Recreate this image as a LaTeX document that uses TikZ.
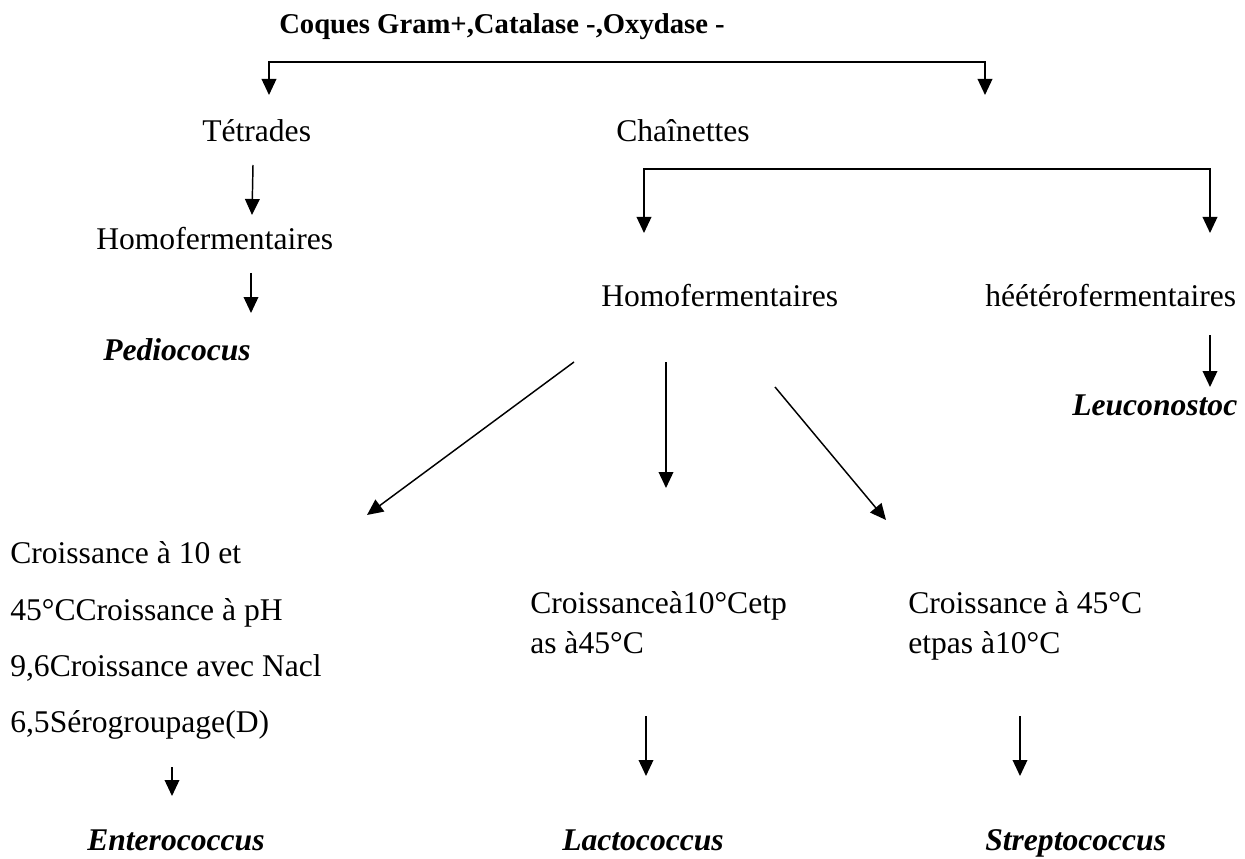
\documentclass[tikz,border=0pt]{standalone}
\usepackage{fontspec}
\setmainfont{Liberation Serif}
\usetikzlibrary{arrows.meta}

\begin{document}
\begin{tikzpicture}[x=0.75pt,y=-0.75pt,
  txt/.style={anchor=base west, inner sep=0pt, font=\fontsize{23.7}{28}\selectfont},
  genus/.style={txt, font=\fontsize{23.7}{28}\selectfont\bfseries\itshape},
  arr/.style={-{Triangle[length=12pt,width=11pt]}, line width=1.1pt},
  bracket/.style={{Triangle[length=12pt,width=11pt]}-{Triangle[length=12pt,width=11pt]}, line width=1.1pt}]
\useasboundingbox (0,0) rectangle (1245,859);

% titre et premier niveau
\node[txt, font=\fontsize{21.5}{26}\selectfont\bfseries] (title) at (279,34) {Coques Gram+,Catalase -,Oxydase -};
\node[txt] (tetr) at (202,142) {Tétrades};
\node[txt] (chain) at (616,142) {Chaînettes};
\node[txt] (homoA) at (96,250) {Homofermentaires};
\node[genus] (pedio) at (103,360) {Pediococus};
\node[txt] (homoB) at (601,306) {Homofermentaires};
\node[txt] (hetero) at (985,306) {héétérofermentaires};
\node[genus] (leuco) at (1072,415) {Leuconostoc};

% criteres
\foreach \line/\y [count=\i] in {
  {Croissance à 10 et}/563,
  {45°CCroissance à pH}/620,
  {9,6Croissance avec Nacl}/676,
  {6,5Sérogroupage(D)}/732
} {
  \node[txt] (crL\i) at (10,\y) {\line};
}
\node[txt] (crM1) at (530,613) {Croissanceà10°Cetp};
\node[txt] (crM2) at (530,653) {as à45°C};
\node[txt] (crR1) at (908,613) {Croissance à 45°C};
\node[txt] (crR2) at (908,653) {etpas à10°C};

% genres
\node[genus] (enter) at (87,850) {Enterococcus};
\node[genus] (lacto) at (562,850) {Lactococcus};
\node[genus] (strep) at (985,850) {Streptococcus};

% extremites des fleches
\coordinate (topL) at (269,95);
\coordinate (topR) at (985,95);
\coordinate (chL) at (644,233);
\coordinate (chR) at (1210,233);
\coordinate (tetrOut) at (253,165);
\coordinate (homoAIn) at (252,215);
\coordinate (homoAOut) at (251,273);
\coordinate (pedioIn) at (251,313);
\coordinate (hetOut) at (1210,335);
\coordinate (leucoIn) at (1210,387);
\coordinate (homoBl) at (574,362);
\coordinate (crLIn) at (367,515);
\coordinate (homoBm) at (666,362);
\coordinate (crMIn) at (666,488);
\coordinate (homoBr) at (775,387);
\coordinate (crRIn) at (886,520);
\coordinate (crLOut) at (172,767);
\coordinate (enterIn) at (172,796);
\coordinate (crMOut) at (646,716);
\coordinate (lactoIn) at (646,776);
\coordinate (crROut) at (1020,716);
\coordinate (strepIn) at (1020,776);

\draw[bracket] (topL) -- ++(0,-33) -| (topR);
\draw[bracket] (chL) -- ++(0,-64) -| (chR);
\foreach \a/\b in {tetrOut/homoAIn, homoAOut/pedioIn, hetOut/leucoIn,
  homoBl/crLIn, homoBm/crMIn, homoBr/crRIn,
  crLOut/enterIn, crMOut/lactoIn, crROut/strepIn} {
  \draw[arr] (\a) -- (\b);
}
\end{tikzpicture}
\end{document}
